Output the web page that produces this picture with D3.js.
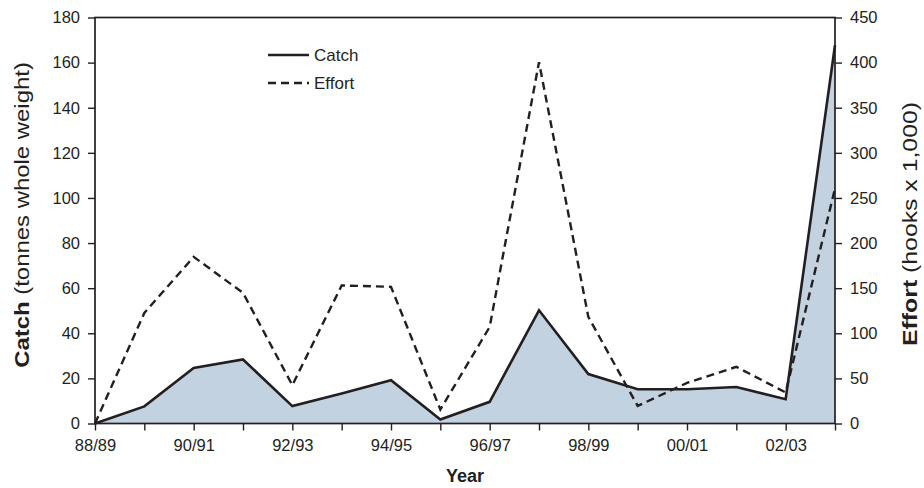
<!DOCTYPE html>
<html>
<head>
<meta charset="utf-8">
<script src="https://cdn.jsdelivr.net/npm/d3@7"></script>
<style>
  html, body { margin: 0; padding: 0; background: #fff; }
  svg { display: block; font-family: "Liberation Sans", Arial, Helvetica, sans-serif; }
</style>
</head>
<body>
<svg id="chart" width="924" height="488"></svg>
<script>
// Fishing seasons along the x axis
const seasons = ["88/89","89/90","90/91","91/92","92/93","93/94","94/95","95/96",
                 "96/97","97/98","98/99","99/00","00/01","01/02","02/03","03/04"];
// Catch, tonnes whole weight (left axis)
const catchValues = [0, 7.6, 24.6, 28.4, 7.7, 13.3, 19.2, 1.8,
                     9.6, 50.2, 21.9, 15.2, 15.2, 16.2, 10.8, 167.7];
// Effort, thousands of hooks (right axis)
const effortValues = [0, 122.6, 184.7, 144.8, 42.5, 153, 151.5, 15.5,
                      107, 400.5, 118.2, 19.5, 45, 62.8, 34.4, 260.5];
// Axis tick values
const catchTicks = [0, 20, 40, 60, 80, 100, 120, 140, 160, 180];
const effortTicks = [0, 50, 100, 150, 200, 250, 300, 350, 400, 450];

const ink = "#231f20";
const fillColor = "#c3d2e1";

const svg = d3.select("#chart");
const plotLeft = 95, plotRight = 835, plotTop = 17.5, plotBottom = 423.5;

const x = d3.scalePoint().domain(seasons).range([plotLeft, plotRight]);
const yL = d3.scaleLinear().domain([0, 180]).range([plotBottom, plotTop]);
const yR = d3.scaleLinear().domain([0, 450]).range([plotBottom, plotTop]);

// Shaded area beneath the catch line
const area = d3.area()
  .x((d, i) => x(seasons[i]))
  .y0(yL(0))
  .y1(d => yL(d));
svg.append("path").datum(catchValues)
  .attr("d", area).attr("fill", fillColor);

// Effort (dashed, right scale)
const effortLine = d3.line().x((d, i) => x(seasons[i])).y(d => yR(d));
svg.append("path").datum(effortValues)
  .attr("d", effortLine).attr("fill", "none")
  .attr("stroke", ink).attr("stroke-width", 2.4)
  .attr("stroke-dasharray", "8,5").attr("stroke-linejoin", "miter");

// Catch (solid, left scale)
const catchLine = d3.line().x((d, i) => x(seasons[i])).y(d => yL(d));
svg.append("path").datum(catchValues)
  .attr("d", catchLine).attr("fill", "none")
  .attr("stroke", ink).attr("stroke-width", 2.6)
  .attr("stroke-linejoin", "miter");

// Frame
svg.append("rect")
  .attr("x", plotLeft).attr("y", plotTop)
  .attr("width", plotRight - plotLeft).attr("height", plotBottom - plotTop)
  .attr("fill", "none").attr("stroke", ink).attr("stroke-width", 1.7);

function styleAxis(g) {
  g.select(".domain").remove();
  g.selectAll(".tick line").attr("stroke", ink).attr("stroke-width", 1.4);
  g.selectAll(".tick text").attr("fill", ink).attr("font-size", 16.5);
}

svg.append("g").attr("transform", `translate(${plotLeft},0)`)
  .call(d3.axisLeft(yL).tickValues(catchTicks).tickSize(7).tickPadding(8).tickFormat(d3.format("d")))
  .call(styleAxis);

svg.append("g").attr("transform", `translate(${plotRight},0)`)
  .call(d3.axisRight(yR).tickValues(effortTicks).tickSize(7).tickPadding(8).tickFormat(d3.format("d")))
  .call(styleAxis);

svg.append("g").attr("transform", `translate(0,${plotBottom})`)
  .call(d3.axisBottom(x).tickSize(7).tickPadding(9)
    .tickFormat((d, i) => (i % 2 === 0 ? d : "")))
  .call(styleAxis);

// Axis titles
svg.append("text")
  .attr("x", 465).attr("y", 482)
  .attr("text-anchor", "middle")
  .attr("font-size", 18).attr("font-weight", "bold").attr("fill", ink)
  .text("Year");

function rotatedTitle(cx, cy, bold, rest, span) {
  const g = svg.append("g");
  const t = g.append("text")
    .attr("text-anchor", "middle")
    .attr("font-size", 20.5).attr("fill", ink);
  t.append("tspan").attr("font-weight", "bold").text(bold);
  t.append("tspan").text(rest);
  const w = t.node().getComputedTextLength();
  const sx = span / w;
  g.attr("transform", `translate(${cx},${cy}) rotate(-90) scale(${sx},1)`);
}
rotatedTitle(29, 215, "Catch", " (tonnes whole weight)", 306);
rotatedTitle(917, 224, "Effort", " (hooks x 1,000)", 244);

// Legend
const legend = svg.append("g").attr("transform", "translate(268,0)");
const legendItems = [
  { label: "Catch", dash: null, y: 55 },
  { label: "Effort", dash: "8,5,8,5,8,5,2", y: 83 }
];
legendItems.forEach(it => {
  legend.append("line")
    .attr("x1", 0).attr("x2", 41).attr("y1", it.y).attr("y2", it.y)
    .attr("stroke", ink).attr("stroke-width", it.dash ? 2.4 : 2.6)
    .attr("stroke-dasharray", it.dash);
  legend.append("text")
    .attr("x", 46).attr("y", it.y).attr("dy", "0.35em")
    .attr("font-size", 17).attr("fill", ink)
    .text(it.label);
});
</script>
</body>
</html>
